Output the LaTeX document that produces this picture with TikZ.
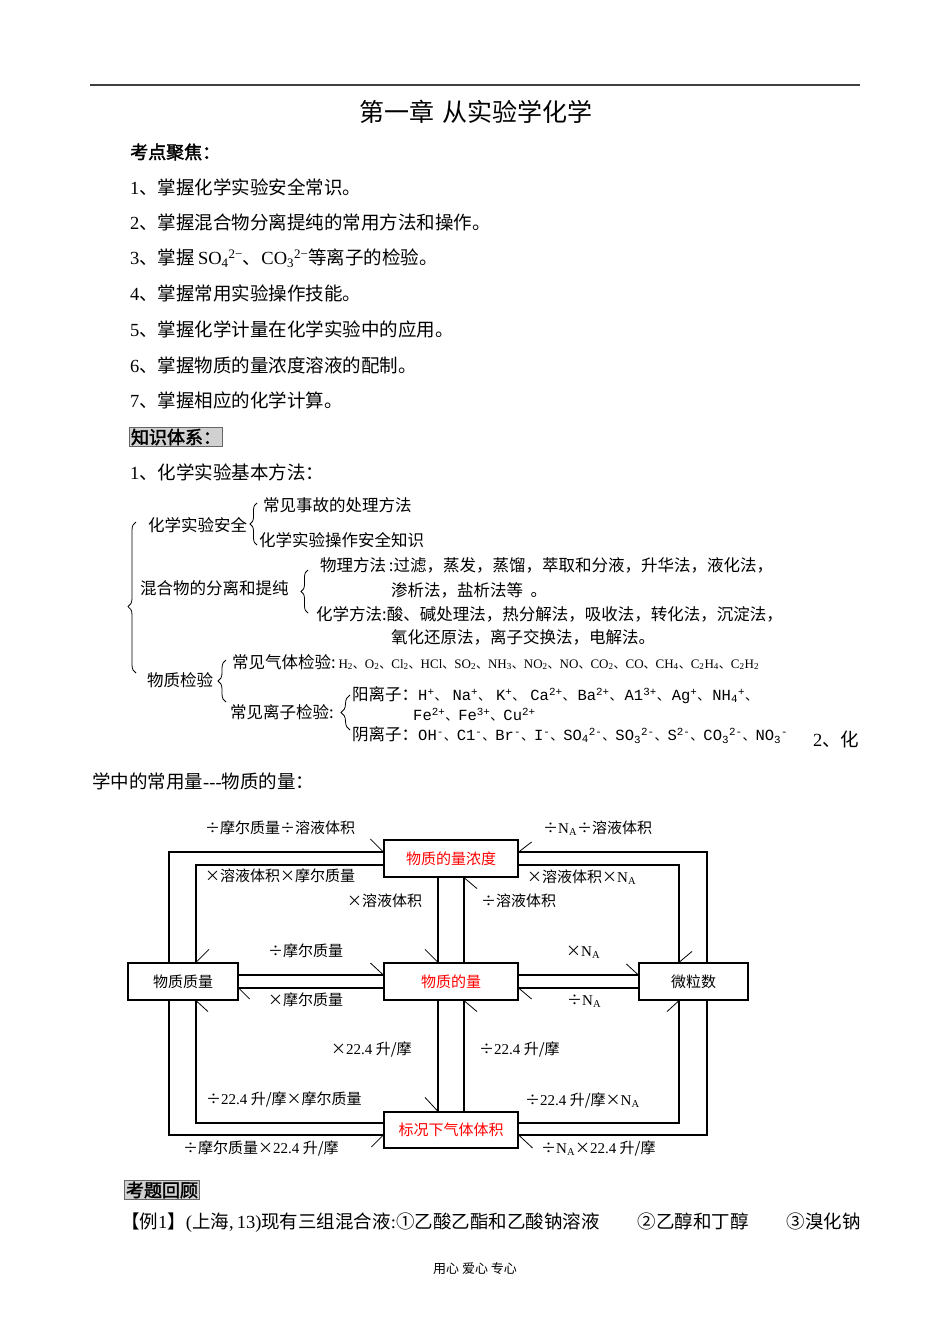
\documentclass[tikz,border=0pt]{standalone}
\usepackage{fontspec}
\setmainfont{Noto Sans CJK SC}
\newfontfamily\bfc{Noto Sans CJK SC}[FakeBold=2]
\newfontfamily\lat{Liberation Serif}
\newfontfamily\mono{Liberation Mono}
\usetikzlibrary{decorations.pathreplacing,calc}
\newcommand\fs[1]{\fontsize{#1}{#1}\selectfont}
\newcommand\la[1]{{\lat #1}}
\newcommand\mo[1]{{\mono\fs{15.5}#1}}
\newcommand\gf[1]{{\lat\fs{13}#1}}
\newcommand\dn{{\fs{13}、}}
\newcommand\dg{{\fs{12}、}}
\newcommand\NA{{\lat N\textsubscript{A}}}
\begin{document}
\begin{tikzpicture}[x=1pt,y=-1pt,
  txt/.style={anchor=west, inner sep=0pt, font=\fs{18.5}},
  tr/.style={anchor=west, inner sep=0pt, font=\fs{16.5}},
  lb/.style={anchor=west, inner sep=0pt, font=\fs{15}},
  hl/.style={anchor=west, inner sep=1.5pt, font=\bfc\fs{18}, fill=black!18, draw=black!60, line width=1pt},
  bx/.style={draw, line width=1.2pt, inner sep=0pt, font=\fs{15}},
  ln/.style={line width=1.2pt},
  tk/.style={line width=0.8pt},
  br/.style={decorate, decoration={brace, amplitude=#1}, line width=0.8pt}
]
\useasboundingbox (0,0) rectangle (950,1344);
\fill[white] (0,0) rectangle (950,1344);
% header
\draw[line width=2pt, black!75] (90,85) -- (860,85);
\node[inner sep=0pt, font=\fs{25}] (title) at (476,112) {第一章\hspace{8pt}从实验学化学};
\node[txt, font=\bfc\fs{18}] (kd) at (130,152) {考点聚焦：};
\node[txt] (i1) at (130,187) {\la{1}、掌握化学实验安全常识。};
\node[txt] (i2) at (130,222) {\la{2}、掌握混合物分离提纯的常用方法和操作。};
\node[txt] (i3) at (130,258) {\la{3}、掌握\,\la{SO\textsubscript{4}\textsuperscript{2−}}、\la{CO\textsubscript{3}\textsuperscript{2−}}等离子的检验。};
\node[txt] (i4) at (130,293) {\la{4}、掌握常用实验操作技能。};
\node[txt] (i5) at (130,329) {\la{5}、掌握化学计量在化学实验中的应用。};
\node[txt] (i6) at (130,365) {\la{6}、掌握物质的量浓度溶液的配制。};
\node[txt] (i7) at (130,400) {\la{7}、掌握相应的化学计算。};
\node[hl] (zs) at (129,437) {知识体系：};
\node[txt] (s1) at (130,472) {\la{1}、化学实验基本方法：};
% tree
\draw[br=8pt] (136,673) -- (136,522) [decoration={aspect=0.44}];
\node[tr] (t1) at (148,525) {化学实验安全};
\draw[br=7pt] (257,545) -- (257,503);
\node[tr] (t11) at (263,505) {常见事故的处理方法};
\node[tr] (t12) at (259,540) {化学实验操作安全知识};
\node[tr] (t2) at (140,588) {混合物的分离和提纯};
\draw[br=7pt] (308,613) -- (308,570);
\node[tr] (t21) at (320,565) {物理方法\,:过滤，蒸发，蒸馏，萃取和分液，升华法，液化法，};
\node[tr] (t21b) at (391,590) {渗析法，盐析法等\ \ 。};
\node[tr] (t22) at (316,614) {化学方法:酸、碱处理法，热分解法，吸收法，转化法，沉淀法，};
\node[tr] (t22b) at (391,637) {氧化还原法，离子交换法，电解法。};
\node[tr] (t3) at (147,680) {物质检验};
\draw[br=8pt] (226,702) -- (226,660);
\node[tr] (t31) at (232,662) {常见气体检验:\,\gf{H\textsubscript{2}}\dg\gf{O\textsubscript{2}}\dg\gf{Cl\textsubscript{2}}\dg\gf{HCl}\dg\gf{SO\textsubscript{2}}\dg\gf{NH\textsubscript{3}}\dg\gf{NO\textsubscript{2}}\dg\gf{NO}\dg\gf{CO\textsubscript{2}}\dg\gf{CO}\dg\gf{CH\textsubscript{4}}\dg\gf{C\textsubscript{2}H\textsubscript{4}}\dg\gf{C\textsubscript{2}H\textsubscript{2}}};
\node[tr] (t32) at (230,712) {常见离子检验:};
\draw[br=9pt] (350,730) -- (350,695);
\node[tr] (t321) at (352,695) {阳离子：\mo{H\textsuperscript{+}}\dn\hspace{5pt}\mo{Na\textsuperscript{+}}\dn\hspace{5pt}\mo{K\textsuperscript{+}}\dn\hspace{5pt}\mo{Ca\textsuperscript{2+}}\dn\hspace{2pt}\mo{Ba\textsuperscript{2+}}\dn\hspace{2pt}\mo{A1\textsuperscript{3+}}\dn\hspace{2pt}\mo{Ag\textsuperscript{+}}\dn\hspace{2pt}\mo{NH\textsubscript{4}\textsuperscript{+}}\dn};
\node[tr] (t321b) at (413,715) {\mo{Fe\textsuperscript{2+}}\dn\mo{Fe\textsuperscript{3+}}\dn\mo{Cu\textsuperscript{2+}}};
\node[tr] (t322) at (352,735) {阴离子：\mo{OH\textsuperscript{-}}\dn\mo{C1\textsuperscript{-}}\dn\mo{Br\textsuperscript{-}}\dn\mo{I\textsuperscript{-}}\dn\mo{SO\textsubscript{4}\textsuperscript{2-}}\dn\mo{SO\textsubscript{3}\textsuperscript{2-}}\dn\mo{S\textsuperscript{2-}}\dn\mo{CO\textsubscript{3}\textsuperscript{2-}}\dn\mo{NO\textsubscript{3}\textsuperscript{-}}};
\node[txt] (s2a) at (813,739) {\la{2}、化};
\node[txt] (s2b) at (92,781) {学中的常用量\la{---}物质的量：};
% diagram boxes
\node[bx, minimum width=134pt, minimum height=37pt, text=red] (conc) at (451,858.5) {物质的量浓度};
\node[bx, minimum width=110pt, minimum height=37pt] (mass) at (183,981.5) {物质质量};
\node[bx, minimum width=134pt, minimum height=37pt, text=red] (mol) at (451,981.5) {物质的量};
\node[bx, minimum width=109pt, minimum height=37pt] (num) at (693.5,981.5) {微粒数};
\node[bx, minimum width=134pt, minimum height=36pt, text=red] (gas) at (451,1130) {标况下气体体积};
% guide coordinates
\coordinate (cLo) at (169,0); \coordinate (cLi) at (196,0);
\coordinate (cRi) at (679,0); \coordinate (cRo) at (707,0);
\coordinate (cM1) at (438,0); \coordinate (cM2) at (464,0);
\coordinate (rTo) at (0,852); \coordinate (rTi) at (0,865);
\coordinate (rH1) at (0,975); \coordinate (rH2) at (0,988);
\coordinate (rBi) at (0,1123); \coordinate (rBo) at (0,1135);
% connectors
\draw[ln] (mass.north -| cLo) |- (conc.west |- rTo);
\draw[tk] (conc.west |- rTo) -- ++(-13,-13);
\draw[ln] (conc.west |- rTi) -| (mass.north -| cLi);
\draw[tk] (mass.north -| cLi) -- ++(13,-13);
\draw[ln] (conc.south -| cM1) -- (mol.north -| cM1);
\draw[tk] (mol.north -| cM1) -- ++(-13,-13);
\draw[ln] (mol.north -| cM2) -- (conc.south -| cM2);
\draw[tk] (conc.south -| cM2) -- ++(13,11);
\draw[ln] (mass.east |- rH1) -- (mol.west |- rH1);
\draw[tk] (mol.west |- rH1) -- ++(-13,-12);
\draw[ln] (mol.west |- rH2) -- (mass.east |- rH2);
\draw[tk] (mass.east |- rH2) -- ++(11,11);
\draw[ln] (mol.east |- rH1) -- (num.west |- rH1);
\draw[tk] (num.west |- rH1) -- ++(-12,-11);
\draw[ln] (num.west |- rH2) -- (mol.east |- rH2);
\draw[tk] (mol.east |- rH2) -- ++(13,11);
\draw[ln] (num.north -| cRo) |- (conc.east |- rTo);
\draw[tk] (conc.east |- rTo) -- ++(13,-10);
\draw[ln] (conc.east |- rTi) -| (num.north -| cRi);
\draw[tk] (num.north -| cRi) -- ++(13,-11);
\draw[ln] (mol.south -| cM1) -- (gas.north -| cM1);
\draw[tk] (gas.north -| cM1) -- ++(-13,-14);
\draw[ln] (gas.north -| cM2) -- (mol.south -| cM2);
\draw[tk] (mol.south -| cM2) -- ++(13,11);
\draw[ln] (mass.south -| cLo) |- (gas.west |- rBo);
\draw[tk] (gas.west |- rBo) -- ++(-12,12);
\draw[ln] (gas.west |- rBi) -| (mass.south -| cLi);
\draw[tk] (mass.south -| cLi) -- ++(12,11);
\draw[ln] (num.south -| cRo) |- (gas.east |- rBo);
\draw[tk] (gas.east |- rBo) -- ++(14,13);
\draw[ln] (gas.east |- rBi) -| (num.south -| cRi);
\draw[tk] (num.south -| cRi) -- ++(-12,11);
% labels
\node[lb] (l1) at (205,828) {÷摩尔质量÷溶液体积};
\node[lb] (l2) at (543,828) {÷\NA÷溶液体积};
\node[lb] (l3) at (205,876) {×溶液体积×摩尔质量};
\node[lb] (l4) at (527,877) {×溶液体积×\NA};
\node[lb] (l5) at (347,901) {×溶液体积};
\node[lb] (l6) at (481,901) {÷溶液体积};
\node[lb] (l7) at (268,951) {÷摩尔质量};
\node[lb] (l8) at (566,952) {×\NA};
\node[lb] (l9) at (268,1000) {×摩尔质量};
\node[lb] (l10) at (567,1001) {÷\NA};
\node[lb] (l11) at (331,1049) {×\la{22.4} 升/摩};
\node[lb] (l12) at (479,1049) {÷\la{22.4} 升/摩};
\node[lb] (l13) at (206,1099) {÷\la{22.4} 升/摩×摩尔质量};
\node[lb] (l14) at (525,1100) {÷\la{22.4} 升/摩×\NA};
\node[lb] (l15) at (183,1148) {÷摩尔质量×\la{22.4} 升/摩};
\node[lb] (l16) at (541,1148) {÷\NA×\la{22.4} 升/摩};
% footer
\node[hl] (kt) at (124,1190) {考题回顾};
\node[txt] (ex) at (121,1223) {【例\la{1}】\la{(}上海\la{,\,13)}现有三组混合液\la{:}①乙酸乙酯和乙酸钠溶液\hspace{38pt}②乙醇和丁醇\hspace{38pt}③溴化钠};
\node[inner sep=0pt, font=\fs{13}] (ft) at (475,1269) {用心\ 爱心\ 专心};
\end{tikzpicture}
\end{document}
